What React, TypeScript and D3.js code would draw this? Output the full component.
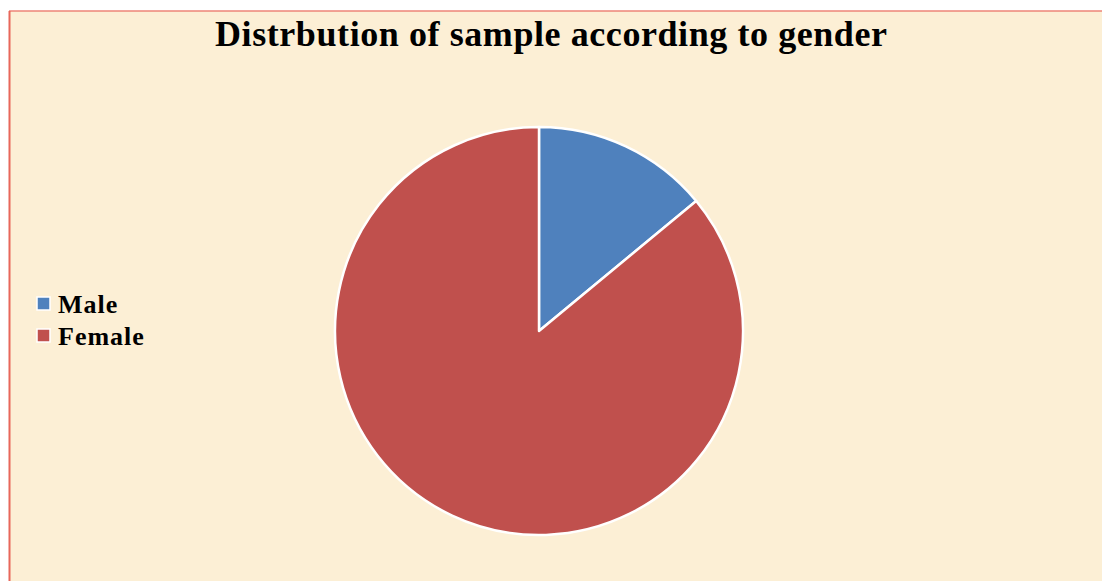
import React, { useRef, useEffect } from 'react';
import * as d3 from 'd3';

const categories = ['Male', 'Female'];
const values = [14, 86];
const colors = ['#4F81BD', '#C0504D'];
const title = 'Distrbution of sample according to gender';

const W = 1102;
const H = 581;

const App = () => {
  const svgRef = useRef<SVGSVGElement>(null);

  useEffect(() => {
    const svg = d3.select(svgRef.current);
    svg.selectAll('*').remove();

    // panel background with the reddish frame on top/left
    svg.append('rect').attr('x', 0).attr('y', 0).attr('width', W).attr('height', H).style('fill', '#ffffff');
    svg.append('rect').attr('x', 9).attr('y', 11).attr('width', W - 9).attr('height', H - 11).style('fill', '#FCEFD5');
    svg.append('line').attr('x1', 9).attr('y1', 11).attr('x2', W).attr('y2', 11)
      .style('stroke', '#EE8577').style('stroke-width', 1.5);
    svg.append('line').attr('x1', 9.5).attr('y1', 11).attr('x2', 9.5).attr('y2', H)
      .style('stroke', '#E8675A').style('stroke-width', 2);

    svg.append('text')
      .text(title)
      .attr('x', 215)
      .attr('y', 46)
      .attr('textLength', 672)
      .attr('lengthAdjust', 'spacing')
      .style('font-family', '"Liberation Serif", "Times New Roman", serif')
      .style('font-size', '36px')
      .style('font-weight', 'bold')
      .style('fill', '#000');

    const cx = 539;
    const cy = 331;
    const radius = 204;

    const pie = d3.pie<number>().sort(null).value((d) => d);
    const arc = d3.arc<d3.PieArcDatum<number>>().innerRadius(0).outerRadius(radius);

    svg.append('g')
      .attr('transform', `translate(${cx},${cy})`)
      .selectAll('path')
      .data(pie(values))
      .join('path')
      .attr('d', arc)
      .style('fill', (_d, i) => colors[i])
      .style('stroke', '#ffffff')
      .style('stroke-width', 2.5)
      .style('stroke-linejoin', 'round');

    // legend
    const legend = svg.append('g').attr('transform', 'translate(37,297)');
    const item = legend.selectAll('g')
      .data(categories)
      .join('g')
      .attr('transform', (_d, i) => `translate(0,${i * 32})`);
    item.append('rect')
      .attr('width', 13)
      .attr('height', 13)
      .style('fill', (_d, i) => colors[i])
      .style('stroke', '#ffffff')
      .style('stroke-width', 1.5);
    item.append('text')
      .text((d) => d)
      .attr('x', 21)
      .attr('y', 16)
      .style('font-family', '"Liberation Serif", "Times New Roman", serif')
      .style('font-size', '26px')
      .style('letter-spacing', '1px')
      .style('font-weight', 'bold')
      .style('fill', '#000');
  }, []);

  return (
    <div style={{ position: 'absolute', left: 0, top: 0 }}>
      <svg ref={svgRef} width={W} height={H} style={{ display: 'block' }}></svg>
    </div>
  );
};

export default App;
